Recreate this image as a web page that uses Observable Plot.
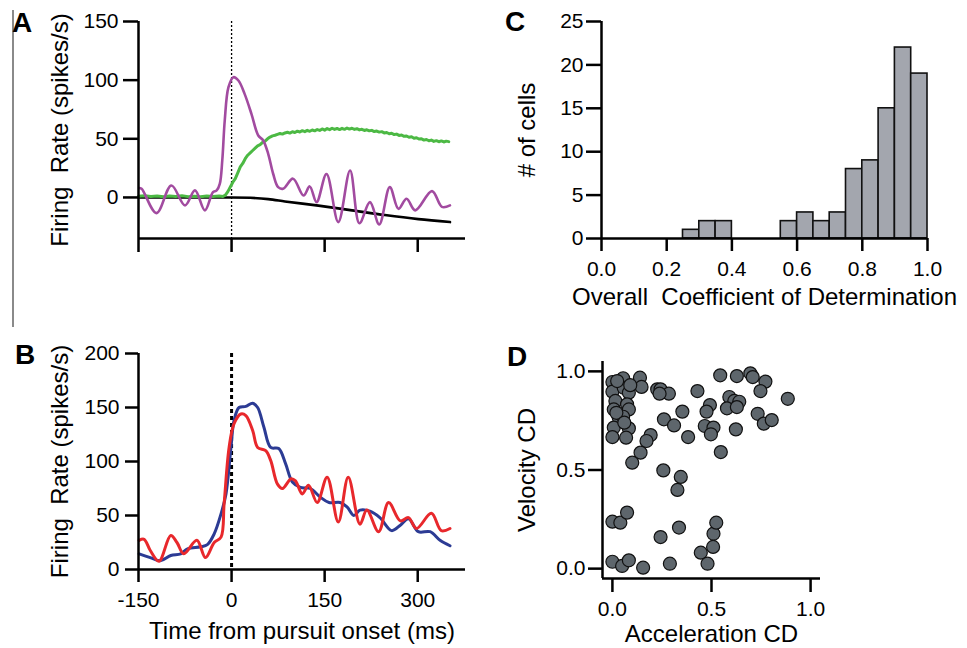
<!DOCTYPE html>
<html><head><meta charset="utf-8">
<script src="https://cdn.jsdelivr.net/npm/d3@7"></script>
<script src="https://cdn.jsdelivr.net/npm/@observablehq/plot@0.6"></script>
<style>
body{margin:0;background:#fff;}
#wrap{position:relative;width:967px;height:648px;overflow:hidden;font-family:'Liberation Sans',Arial,Helvetica,sans-serif;color:#000;}
.panel{position:absolute;}
.letter{position:absolute;font-weight:bold;font-size:28px;line-height:28px;}
svg text{white-space:pre;}
#sep{position:absolute;left:12px;top:10px;width:1.5px;height:317px;background:#8a8a8a;}
</style></head><body>
<div id="wrap">
  <div id="sep"></div>
  <div class="panel" id="pA" style="left:0;top:0"></div>
  <div class="panel" id="pB" style="left:0;top:320px"></div>
  <div class="panel" id="pC" style="left:480px;top:0"></div>
  <div class="panel" id="pD" style="left:480px;top:320px"></div>
  <div class="letter" style="left:12px;top:9px">A</div>
  <div class="letter" style="left:15px;top:341px">B</div>
  <div class="letter" style="left:505px;top:8px">C</div>
  <div class="letter" style="left:507px;top:343px">D</div>
</div>
<script>
// ---------- tick labels / categories ----------
const timeTicks = [-150, 0, 150, 300];
const rateTicksA = [0, 50, 100, 150];
const rateTicksB = [0, 50, 100, 150, 200];
const countTicks = [0, 5, 10, 15, 20, 25];
const cdTicksC = [0, 0.2, 0.4, 0.6, 0.8, 1.0];
const cdTicksD = [0, 0.5, 1.0];

// ---------- Panel A series ----------
const purpleT = [-149, -145, -121, -97, -75, -59, -43, -30, -24, -19, -15, -11, -5, 3, 11, 21, 32, 43, 51, 59, 67, 75, 83, 99, 116, 126, 137, 153, 172, 191, 206, 223, 238, 255, 269, 282, 296, 323, 339, 352];
const purpleRate = [8, 7.4, -13.4, 10.2, -6.8, 6, -11, 4.5, 6, 11.6, 31.5, 65.6, 94, 102.5, 99.7, 88.3, 71.3, 52.8, 48.6, 37.2, 20.2, 8.8, 7.4, 16, 1.7, 9.4, -4, 20, -21, 23, -22, -4, -23, 8.8, -9.7, -1.1, -11, 5.4, -8, -6.8];

const greenT = [-150, -140, -130, -120, -110, -100, -90, -80, -70, -60, -50, -40, -30, -20, -14, -10, -6, -2, 2, 6, 10, 14, 18, 22, 26, 30, 34, 38, 42, 46, 50, 54, 58, 62, 66, 70, 74, 78, 82, 86, 90, 94, 98, 102, 106, 110, 114, 118, 122, 126, 130, 134, 138, 142, 146, 150, 154, 158, 162, 166, 170, 174, 178, 182, 186, 190, 194, 198, 202, 206, 210, 214, 218, 222, 226, 230, 234, 238, 242, 246, 250, 254, 258, 262, 266, 270, 274, 278, 282, 286, 290, 294, 298, 302, 306, 310, 314, 318, 322, 326, 330, 334, 338, 342, 346, 350];
const greenRate = [1, 1.5, 0.8, 1.2, 0.6, 1.3, 0.9, 1.4, 0.7, 1.1, 0.5, 1.2, 0.8, 1.3, 0.8, 2, 5, 9, 13, 16, 21, 26, 29, 33, 36, 38, 40, 42, 44, 45, 47, 48, 50, 51.5, 52.5, 53, 53.8, 54.5, 54, 55, 55.6, 54.9, 56, 55.4, 56.5, 55.8, 56.9, 56.1, 57.2, 56.4, 57.5, 56.8, 57.9, 57.1, 58.4, 57.4, 58.7, 57.8, 59, 58, 58.8, 57.9, 58.9, 58.1, 59.2, 58.3, 59, 58, 58.6, 57.6, 58.1, 57.1, 57.7, 56.8, 57.2, 56.2, 56.6, 55.7, 56.1, 55, 55.4, 54.3, 54.7, 53.6, 54, 52.9, 53.2, 52.1, 52.4, 51.3, 51.7, 50.5, 50.9, 49.8, 50.1, 48.9, 49.4, 48.3, 48.9, 47.8, 48.4, 47.5, 48.2, 47.3, 48, 47.6];

const blackT = [-150, -100, -50, 0, 30, 59, 86, 140, 194, 247, 301, 352];
const blackRate = [0, 0, 0, 0, -0.3, -1.4, -3.4, -7, -11, -15, -18.5, -21];

// ---------- Panel B series ----------
const blueT = [-149, -131, -115, -98, -82, -71, -50, -39, -28, -17, -9, -1, 4, 12, 23, 34, 42, 52, 63, 76, 87, 98, 111, 127, 143, 157, 175, 186, 197, 207, 223, 239, 258, 272, 285, 301, 320, 336, 352];
const blueRate = [14.5, 11, 8, 13, 14.5, 19, 21, 23, 33, 51.5, 70, 113, 138, 150, 151, 154, 150, 132, 113, 112, 98, 81, 76, 75, 67, 62, 62, 58, 50, 55, 54, 48, 36, 41, 47, 35, 35, 27, 22];

const redT = [-149, -141, -131, -117, -98, -88, -77, -56, -42, -28, -17, -12, -4, 4, 15, 23, 34, 42, 55, 63, 74, 82, 96, 103, 114, 124, 138, 154, 172, 188, 207, 218, 237, 253, 272, 285, 298, 322, 338, 352];
const redRate = [27, 28, 17.6, 7.7, 31.5, 25, 14.5, 27, 11, 25, 30, 61, 113, 135, 144, 142.5, 128.7, 113, 110, 101, 79, 75, 84, 82, 70, 78, 62, 85.5, 44, 85.5, 42, 55, 35, 62, 45, 48, 38, 52, 36, 38];

// ---------- Panel C histogram ----------
const binStart = [0, 0.05, 0.10, 0.15, 0.20, 0.25, 0.30, 0.35, 0.40, 0.45, 0.50, 0.55, 0.60, 0.65, 0.70, 0.75, 0.80, 0.85, 0.90, 0.95];
const binWidth = 0.05;
const cellCounts = [0, 0, 0, 0, 0, 1, 2, 2, 0, 0, 0, 2, 3, 2, 3, 8, 9, 15, 22, 19];

// ---------- Panel D scatter ----------
const accelCD = [0.0, 0.054, 0.139, 0.0, 0.057, 0.083, 0.147, 0.015, 0.074, 0.007, 0.083, 0.032, 0.007, 0.083, 0.0, 0.069, 0.193, 0.172, 0.142, 0.1, 0.226, 0.243, 0.285, 0.429, 0.26, 0.353, 0.311, 0.382, 0.257, 0.345, 0.328, 0.492, 0.475, 0.466, 0.51, 0.497, 0.547, 0.544, 0.628, 0.696, 0.708, 0.772, 0.747, 0.59, 0.615, 0.64, 0.578, 0.628, 0.623, 0.733, 0.764, 0.804, 0.885, 0.0, 0.04, 0.074, 0.0, 0.049, 0.083, 0.155, 0.243, 0.336, 0.29, 0.446, 0.48, 0.508, 0.51, 0.524, 0.024, 0.238, 0.054, 0.02, 0.06, 0.09];
const velocityCD = [0.946, 0.965, 0.968, 0.897, 0.917, 0.892, 0.921, 0.85, 0.833, 0.807, 0.807, 0.765, 0.715, 0.711, 0.667, 0.664, 0.677, 0.647, 0.588, 0.537, 0.909, 0.909, 0.887, 0.9, 0.757, 0.796, 0.726, 0.667, 0.498, 0.465, 0.399, 0.829, 0.796, 0.723, 0.715, 0.681, 0.591, 0.98, 0.976, 0.99, 0.971, 0.948, 0.9, 0.87, 0.85, 0.846, 0.8125, 0.819, 0.706, 0.785, 0.735, 0.753, 0.861, 0.238, 0.233, 0.284, 0.035, 0.0135, 0.042, 0.005, 0.16, 0.208, 0.025, 0.081, 0.025, 0.11, 0.177, 0.233, 0.951, 0.887, 0.77, 0.79, 0.74, 0.93];

// ---------- build tables ----------
const zip = (a, b) => a.map((t, i) => ({t, v: b[i]}));
const purple = zip(purpleT, purpleRate);
const green = zip(greenT, greenRate);
const black = zip(blackT, blackRate);
const blue = zip(blueT, blueRate);
const red = zip(redT, redRate);
const bins = binStart.map((x1, i) => ({x1, x2: x1 + binWidth, n: cellCounts[i]})).filter(d => d.n > 0);
const cells = accelCD.map((a, i) => ({a, v: velocityCD[i]}));

const FONT = "'Liberation Sans', Arial, Helvetica, sans-serif";
const style = {fontFamily: FONT, fontSize: "21px", background: "transparent", color: "#000", overflow: "visible"};
const AX = 2.5;
const fmt1 = d3.format(".1f");
const ylab = (s, off) => Plot.text([s], {text: d => d, frameAnchor: "left", textAnchor: "middle", rotate: -90, dx: -off, lineAnchor: "top", fontSize: 24});
const xlab = (s, off) => Plot.text([s], {text: d => d, frameAnchor: "bottom", textAnchor: "middle", dy: off, lineAnchor: "bottom", fontSize: 24});

// Panel A
const plotA = Plot.plot({
  width: 480, height: 320, marginLeft: 138, marginRight: 15, marginTop: 21, marginBottom: 82,
  style,
  x: {domain: [-150, 377]}, y: {domain: [-35, 150]},
  marks: [
    Plot.ruleX([0], {strokeDasharray: "2,2", strokeWidth: 1.3}),
    Plot.line(black, {x: "t", y: "v", stroke: "#000", strokeWidth: 2.6, curve: "monotone-x"}),
    Plot.line(green, {x: "t", y: "v", stroke: "#4cb944", strokeWidth: 3}),
    Plot.line(purple, {x: "t", y: "v", stroke: "#a24ba0", strokeWidth: 2.6, curve: "catmull-rom"}),
    Plot.ruleX([-150], {strokeWidth: AX}),
    Plot.ruleY([-35], {strokeWidth: AX}),
    Plot.axisY(rateTicksA, {tickSize: 15, tickPadding: 5, strokeWidth: AX, label: null}),
    Plot.axisX(timeTicks, {tickSize: 14, strokeWidth: AX, fill: "none", label: null}),
    ylab("Firing  Rate (spikes/s)", 88)
  ]
});
document.getElementById("pA").appendChild(plotA);

// Panel B
const plotB = Plot.plot({
  width: 480, height: 328, marginLeft: 138, marginRight: 15, marginTop: 33, marginBottom: 79,
  style,
  x: {domain: [-150, 377]}, y: {domain: [0, 200]},
  marks: [
    Plot.ruleX([0], {strokeDasharray: "4,3", strokeWidth: 3}),
    Plot.line(blue, {x: "t", y: "v", stroke: "#2c3b94", strokeWidth: 3, curve: "catmull-rom"}),
    Plot.line(red, {x: "t", y: "v", stroke: "#e8282c", strokeWidth: 3, curve: "catmull-rom"}),
    Plot.ruleX([-150], {strokeWidth: AX}),
    Plot.ruleY([0], {strokeWidth: AX}),
    Plot.axisY(rateTicksB, {tickSize: 13, tickPadding: 6, strokeWidth: AX, label: null}),
    Plot.axisX(timeTicks, {tickSize: 13, tickPadding: 10, strokeWidth: AX, tickFormat: d => String(d), label: null}),
    ylab("Firing  Rate (spikes/s)", 88),
    xlab("Time from pursuit onset (ms)", 69)
  ]
});
document.getElementById("pB").appendChild(plotB);

// Panel C
const plotC = Plot.plot({
  width: 487, height: 320, marginLeft: 121, marginRight: 40, marginTop: 21, marginBottom: 82,
  style,
  x: {domain: [0, 1]}, y: {domain: [0, 25]},
  marks: [
    Plot.rectY(bins, {x1: "x1", x2: "x2", y: "n", fill: "#a3a6ae", stroke: "#111", strokeWidth: 1.6, inset: 0}),
    Plot.ruleX([0], {strokeWidth: AX}),
    Plot.ruleY([0], {strokeWidth: AX}),
    Plot.axisY(countTicks, {tickSize: 15, tickPadding: 3, strokeWidth: AX, label: null}),
    Plot.axisX(cdTicksC, {tickSize: 13, tickPadding: 10, strokeWidth: AX, tickFormat: fmt1, label: null}),
    ylab("# of cells", 84),
    xlab("Overall  Coefficient of Determination", 66)
  ]
});
document.getElementById("pC").appendChild(plotC);

// Panel D
const plotD = Plot.plot({
  width: 487, height: 328, marginLeft: 122, marginRight: 147, marginTop: 41, marginBottom: 70,
  style,
  x: {domain: [-0.05, 1.05]}, y: {domain: [-0.05, 1.05]},
  marks: [
    Plot.dot(cells, {x: "a", y: "v", r: 6.5, fill: "#5e666c", stroke: "#111", strokeWidth: 1.2}),
    Plot.ruleX([-0.05], {strokeWidth: AX}),
    Plot.ruleY([-0.05], {strokeWidth: AX}),
    Plot.axisY(cdTicksD, {tickSize: 14, tickPadding: 3, strokeWidth: AX, tickFormat: fmt1, label: null}),
    Plot.axisX(cdTicksD, {tickSize: 14, tickPadding: 9, strokeWidth: AX, tickFormat: fmt1, label: null}),
    ylab("Velocity CD", 85),
    xlab("Acceleration CD", 63)
  ]
});
document.getElementById("pD").appendChild(plotD);
</script>
</body></html>
